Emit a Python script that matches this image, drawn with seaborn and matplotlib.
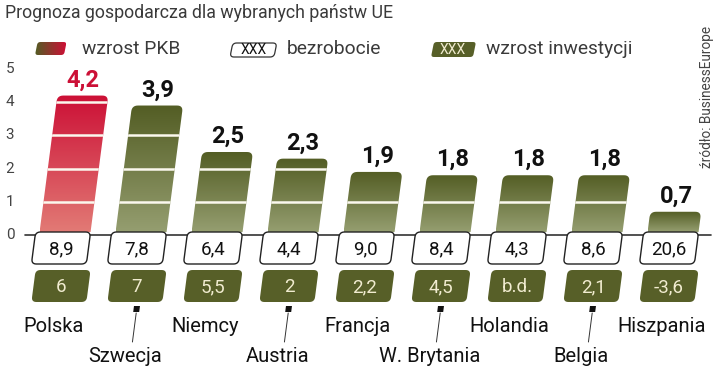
import numpy as np
import pandas as pd
import matplotlib
matplotlib.use("Agg")
import matplotlib.pyplot as plt
import seaborn as sns
from matplotlib.patches import Polygon
from matplotlib.colors import LinearSegmentedColormap
from matplotlib.font_manager import fontManager

# ---------------- data ----------------
countries = ["Polska", "Szwecja", "Niemcy", "Austria", "Francja",
             "W. Brytania", "Holandia", "Belgia", "Hiszpania"]
pkb = [4.2, 3.9, 2.5, 2.3, 1.9, 1.8, 1.8, 1.8, 0.7]
bezrobocie = [8.9, 7.8, 6.4, 4.4, 9.0, 8.4, 4.3, 8.6, 20.6]
inwestycje = [6, 7, 5.5, 2, 2.2, 4.5, None, 2.1, -3.6]
yticks = [0, 1, 2, 3, 4, 5]
title = "Prognoza gospodarcza dla wybranych państw UE"
source = "źródło: BusinessEurope"

# ---------------- style ----------------
sns.set_style("white")
names = {f.name for f in fontManager.ttflist}
NARROW = [f for f in ["Liberation Sans Narrow", "Roboto", "DejaVu Sans"] if f in names] or ["DejaVu Sans"]
SANS = ["Roboto", "DejaVu Sans"]
plt.rcParams["font.family"] = SANS

RED_TOP, RED_BOT = "#cc1036", "#e27a75"
GRN_TOP, GRN_BOT = "#535d24", "#959e70"
BOX_GREEN = "#575f28"
CREAM = "#f1ecd0"
SLANT = 0.13

W, H = 720, 369
X0PX, XSTEP = 65.0, 76.0
Y0PX, YSTEP = 235.0, 33.2

fig = plt.figure(figsize=(W / 100, H / 100), dpi=100)
ax = fig.add_axes([0, 0, 1, 1])
XL = (-X0PX / XSTEP, (W - X0PX) / XSTEP)
YL = ((Y0PX - H) / YSTEP, Y0PX / YSTEP)


def DX(px):
    return (px - X0PX) / XSTEP


def DY(py):
    return (Y0PX - py) / YSTEP


def PX(x):
    return X0PX + x * XSTEP


def PY(y):
    return Y0PX - y * YSTEP


def rounded_para(xbl, xbr, ybot, ytop, slant, rt, rb):
    shift = slant * (ybot - ytop)
    pts = [np.array(p, float) for p in
           [(xbl, ybot), (xbr, ybot), (xbr + shift, ytop), (xbl + shift, ytop)]]
    radii = [rb, rb, rt, rt]
    out = []
    for i, P in enumerate(pts):
        A = pts[i - 1]
        B = pts[(i + 1) % 4]
        r = radii[i]
        if r <= 0:
            out.append(P)
            continue
        p1 = P + r * (A - P) / np.linalg.norm(A - P)
        p2 = P + r * (B - P) / np.linalg.norm(B - P)
        for t in np.linspace(0, 1, 8):
            out.append((1 - t) ** 2 * p1 + 2 * (1 - t) * t * P + t ** 2 * p2)
    out = np.array(out)
    return np.column_stack([DX(out[:, 0]), DY(out[:, 1])])


def gradient_fill(poly_xy, c_top, c_bot, horizontal=False, z=2):
    patch = Polygon(poly_xy, closed=True, facecolor="none", edgecolor="none")
    ax.add_patch(patch)
    cmap = LinearSegmentedColormap.from_list("g", [c_top, c_bot])
    if horizontal:
        arr = np.linspace(0, 1, 64)[None, :]
    else:
        arr = np.linspace(0, 1, 128)[:, None]
    x0, x1 = poly_xy[:, 0].min(), poly_xy[:, 0].max()
    y0, y1 = poly_xy[:, 1].min(), poly_xy[:, 1].max()
    im = ax.imshow(arr, cmap=cmap, extent=[x0, x1, y0, y1], origin="upper",
                   aspect="auto", interpolation="bilinear", zorder=z)
    im.set_clip_path(patch)
    return patch


def fmt_g(v):
    return "b.d." if v is None else f"{v:g}".replace(".", ",")


# ---------------- bars (seaborn) ----------------
df = pd.DataFrame({"kraj": countries, "pkb": pkb})
sns.barplot(data=df, x="kraj", y="pkb", ax=ax, width=51 / 76, color=GRN_TOP,
            order=countries)

bars = list(ax.patches)
for i, p in enumerate(bars):
    p.set_visible(False)
    x0, w, h = p.get_x(), p.get_width(), p.get_height()
    xbl, xbr = PX(x0), PX(x0 + w)
    ybot, ytop = Y0PX - 2.5, PY(h)
    poly = rounded_para(xbl, xbr, ybot, ytop, SLANT, 6, 0)
    top_c, bot_c = (RED_TOP, RED_BOT) if i == 0 else (GRN_TOP, GRN_BOT)
    clip = gradient_fill(poly, top_c, bot_c)
    # white separators inside the bar
    gl = [t for t in yticks if 0 < t < h]
    if gl:
        lc = ax.hlines(gl, x0 - 0.3, x0 + w + 0.5, color="#fbf8ee", lw=1.8, zorder=4)
        lc.set_clip_path(clip)
    cx_bot = (xbl + xbr) / 2
    cx_top = cx_bot + SLANT * (Y0PX - ytop)
    ax.text(DX(cx_top), DY(ytop - 4), f"{pkb[i]:.1f}".replace(".", ","),
            ha="center", va="bottom", fontsize=17, fontweight="bold",
            family=NARROW, color=RED_TOP if i == 0 else "#111111", zorder=6)

    # unemployment box
    bx = cx_bot - 4
    poly = rounded_para(bx - 27.5 - SLANT * 16, bx + 27.5 - SLANT * 16, 264, 232,
                        SLANT, 5, 5)
    ax.add_patch(Polygon(poly, closed=True, facecolor="white", edgecolor="#222222",
                         lw=1.0, zorder=5))
    ax.text(DX(bx), DY(249), f"{bezrobocie[i]:.1f}".replace(".", ","),
            ha="center", va="center", fontsize=13.5, family=NARROW,
            color="#111111", zorder=6)

    # investment box
    poly = rounded_para(bx - 27.5 - SLANT * 16, bx + 27.5 - SLANT * 16, 302, 270,
                        SLANT, 5, 5)
    ax.add_patch(Polygon(poly, closed=True, facecolor=BOX_GREEN, edgecolor="none",
                         zorder=5))
    ax.text(DX(bx), DY(287), fmt_g(inwestycje[i]), ha="center", va="center",
            fontsize=13.5, family=NARROW, color=CREAM, zorder=6)

    # country labels
    if i % 2 == 0:
        ax.text(DX(cx_bot - SLANT * 90), DY(326), countries[i], ha="center",
                va="center", fontsize=14.5, color="#111111", zorder=6)
    else:
        mx = cx_bot - 4.8
        sq = rounded_para(mx - 3, mx + 3, 312, 306, SLANT, 0, 0)
        ax.add_patch(Polygon(sq, closed=True, facecolor="#111111",
                             edgecolor="none", zorder=6))
        ax.plot([DX(mx), DX(mx - SLANT * 29)], [DY(313), DY(342)],
                color="#333333", lw=0.7, zorder=6)
        ax.text(DX(cx_bot - SLANT * 120), DY(356), countries[i], ha="center",
                va="center", fontsize=14.5, color="#111111", zorder=6)

# baseline
ax.plot([DX(25), DX(711)], [0, 0], color="#333333", lw=1.2, zorder=3)

# y tick labels
for t in yticks:
    ax.text(DX(10), t, str(t), ha="center", va="center", fontsize=11,
            color="#444444", zorder=6)

# title & source
ax.text(DX(5), DY(13), title, ha="left", va="center", fontsize=12.8,
        color="#3a3a3a")
ax.text(DX(707), DY(26), source, ha="center", va="top", rotation=90,
        fontsize=9.8, color="#444444")

# legend
sw = rounded_para(35, 64, 55, 42, 0.2, 3, 3)
gradient_fill(sw, GRN_TOP, RED_TOP, horizontal=True, z=3)
ax.text(DX(82), DY(48.5), "wzrost PKB", ha="left", va="center", fontsize=13.8,
        color="#3a3a3a")
lb = rounded_para(230, 274, 57, 43, 0.2, 4, 4)
ax.add_patch(Polygon(lb, closed=True, facecolor="white", edgecolor="#333333",
                     lw=0.9, zorder=5))
ax.text(DX(254), DY(50), "XXX", ha="center", va="center", fontsize=10,
        family=NARROW, color="#111111", zorder=6)
ax.text(DX(287), DY(48.5), "bezrobocie", ha="left", va="center", fontsize=13.8,
        color="#3a3a3a")
gb = rounded_para(431, 473, 57, 42, 0.2, 3, 3)
ax.add_patch(Polygon(gb, closed=True, facecolor=BOX_GREEN, edgecolor="none",
                     zorder=5))
ax.text(DX(453), DY(50), "XXX", ha="center", va="center", fontsize=10,
        family=NARROW, color=CREAM, zorder=6)
ax.text(DX(486), DY(48.5), "wzrost inwestycji", ha="left", va="center",
        fontsize=13.8, color="#3a3a3a")

ax.set_xlim(*XL)
ax.set_ylim(*YL)
ax.axis("off")
fig.savefig("out.png", dpi=100)
